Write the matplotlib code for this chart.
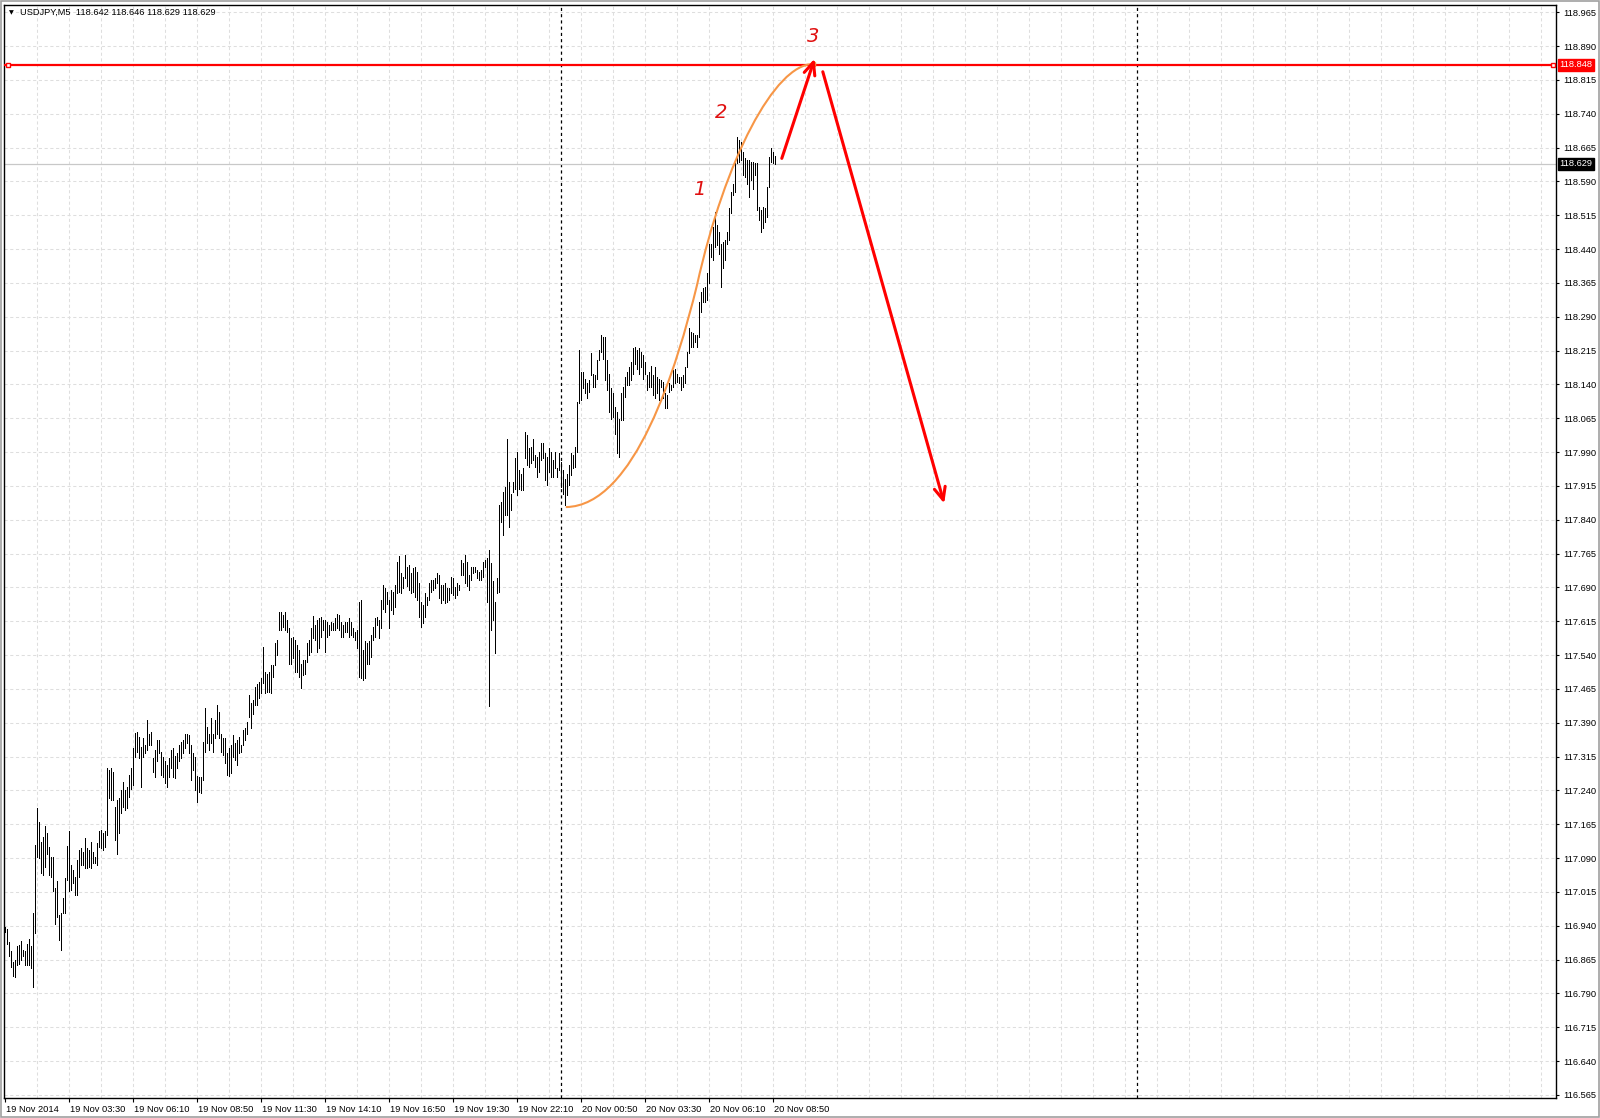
import numpy as np
import matplotlib.pyplot as plt
import matplotlib.transforms as mtrans
from matplotlib.path import Path
from matplotlib.patches import PathPatch, Rectangle

plt.rcParams['font.family'] = ['Liberation Sans', 'DejaVu Sans']

symbol = "USDJPY,M5"
last_ohlc = [118.642, 118.646, 118.629, 118.629]

# M5 bars from 19 Nov 2014 00:50, highs / lows in points above 116.000
high_pts = [
    936, 933, 903, 883, 860, 864, 896, 898, 905, 885, 883, 899, 911, 894, 968, 1119,
    1200, 1169, 1126, 1136, 1161, 1145, 1115, 1093, 1093, 1023, 1040, 964, 968, 1001, 1045, 1117,
    1151, 1075, 1064, 1049, 1086, 1108, 1112, 1104, 1134, 1112, 1108, 1126, 1104, 1093, 1124, 1149,
    1152, 1145, 1149, 1290, 1285, 1290, 1280, 1204, 1219, 1222, 1241, 1259, 1241, 1248, 1275, 1289,
    1333, 1368, 1370, 1359, 1337, 1355, 1341, 1397, 1366, 1370, 1311, 1330, 1352, 1352, 1326, 1315,
    1304, 1296, 1311, 1330, 1333, 1316, 1322, 1341, 1348, 1352, 1366, 1366, 1363, 1341, 1322, 1315,
    1272, 1270, 1270, 1348, 1422, 1381, 1366, 1400, 1366, 1396, 1429, 1414, 1366, 1355, 1355, 1322,
    1333, 1341, 1363, 1344, 1352, 1359, 1341, 1374, 1378, 1392, 1451, 1433, 1440, 1470, 1475, 1480,
    1490, 1558, 1503, 1499, 1503, 1518, 1518, 1566, 1573, 1636, 1636, 1629, 1636, 1618, 1599, 1577,
    1581, 1573, 1562, 1551, 1521, 1529, 1529, 1566, 1573, 1599, 1626, 1606, 1618, 1621, 1625, 1618,
    1618, 1614, 1606, 1614, 1610, 1621, 1632, 1629, 1614, 1606, 1614, 1614, 1621, 1614, 1599, 1592,
    1595, 1658, 1662, 1551, 1570, 1566, 1570, 1584, 1603, 1621, 1625, 1618, 1662, 1695, 1688, 1680,
    1662, 1684, 1680, 1695, 1747, 1759, 1721, 1714, 1762, 1736, 1740, 1721, 1732, 1736, 1725, 1699,
    1658, 1651, 1677, 1669, 1699, 1706, 1706, 1710, 1721, 1717, 1695, 1695, 1699, 1688, 1688, 1714,
    1710, 1691, 1699, 1695, 1751, 1743, 1762, 1747, 1717, 1736, 1736, 1736, 1728, 1725, 1728, 1747,
    1751, 1754, 1773, 1743, 1703, 1658, 1710, 1872, 1880, 1902, 1913, 2019, 1924, 1898, 1924, 1976,
    1991, 1950, 1942, 1954, 2035, 2028, 1998, 2002, 2020, 1983, 1980, 1991, 2009, 2009, 1987, 1980,
    1998, 1991, 1972, 1991, 1954, 1987, 1968, 1950, 1931, 1942, 1961, 1987, 1983, 2002, 2101, 2216,
    2168, 2168, 2153, 2142, 2149, 2209, 2164, 2161, 2194, 2216, 2249, 2245, 2245, 2194, 2164, 2131,
    2120, 2090, 2079, 2064, 2120, 2135, 2157, 2168, 2179, 2190, 2220, 2223, 2216, 2220, 2212, 2205,
    2190, 2161, 2168, 2180, 2160, 2179, 2157, 2153, 2149, 2146, 2120, 2116, 2142, 2138, 2172, 2175,
    2164, 2157, 2157, 2161, 2179, 2212, 2264, 2257, 2253, 2249, 2249, 2323, 2345, 2353, 2356, 2386,
    2452, 2452, 2489, 2522, 2493, 2478, 2452, 2456, 2460, 2478, 2530, 2567, 2585, 2630, 2689, 2681,
    2678, 2656, 2641, 2637, 2637, 2633, 2633, 2630, 2630, 2534, 2526, 2534, 2530, 2578, 2645, 2663,
    2656, 2646,
]
low_pts = [
    927, 899, 872, 849, 829, 827, 853, 855, 864, 872, 853, 853, 853, 846, 804, 923,
    1093, 1089, 1056, 1052, 1069, 1100, 1052, 1049, 1016, 943, 960, 908, 886, 968, 968, 1041,
    1016, 1019, 1034, 1008, 1008, 1049, 1075, 1075, 1067, 1067, 1071, 1067, 1078, 1078, 1075, 1115,
    1112, 1108, 1115, 1141, 1222, 1219, 1219, 1130, 1100, 1145, 1189, 1204, 1196, 1200, 1226, 1242,
    1252, 1315, 1326, 1311, 1248, 1315, 1322, 1330, 1341, 1341, 1281, 1269, 1304, 1322, 1274, 1270,
    1256, 1247, 1270, 1289, 1269, 1267, 1289, 1304, 1311, 1322, 1333, 1344, 1322, 1263, 1285, 1241,
    1215, 1237, 1234, 1263, 1326, 1344, 1330, 1344, 1326, 1355, 1366, 1355, 1326, 1318, 1300, 1274,
    1272, 1278, 1315, 1307, 1296, 1322, 1326, 1341, 1352, 1366, 1403, 1378, 1410, 1429, 1429, 1444,
    1455, 1477, 1455, 1459, 1459, 1455, 1492, 1518, 1540, 1595, 1595, 1603, 1595, 1592, 1521, 1521,
    1533, 1503, 1503, 1492, 1466, 1496, 1499, 1525, 1540, 1547, 1577, 1573, 1547, 1555, 1581, 1595,
    1547, 1581, 1584, 1595, 1595, 1595, 1599, 1595, 1581, 1581, 1592, 1592, 1581, 1584, 1581, 1573,
    1555, 1492, 1488, 1485, 1488, 1521, 1521, 1536, 1573, 1581, 1606, 1577, 1599, 1643, 1636, 1654,
    1599, 1640, 1632, 1647, 1677, 1680, 1677, 1688, 1710, 1692, 1684, 1677, 1680, 1669, 1662, 1625,
    1603, 1610, 1625, 1651, 1662, 1680, 1684, 1688, 1699, 1666, 1655, 1662, 1655, 1658, 1662, 1677,
    1673, 1666, 1673, 1684, 1717, 1717, 1699, 1692, 1684, 1706, 1721, 1725, 1710, 1706, 1706, 1714,
    1736, 1658, 1426, 1595, 1618, 1544, 1677, 1680, 1835, 1806, 1850, 1850, 1824, 1861, 1902, 1909,
    1895, 1909, 1905, 1905, 1976, 1961, 1957, 1965, 1972, 1957, 1935, 1946, 1972, 1976, 1928, 1917,
    1946, 1935, 1935, 1954, 1935, 1950, 1913, 1898, 1872, 1895, 1917, 1939, 1954, 1957, 1991, 2098,
    2105, 2131, 2120, 2109, 2124, 2161, 2135, 2135, 2153, 2194, 2212, 2197, 2149, 2127, 2079, 2064,
    2068, 2031, 1987, 1980, 2061, 2061, 2112, 2138, 2138, 2149, 2164, 2186, 2175, 2164, 2179, 2153,
    2164, 2127, 2135, 2135, 2116, 2109, 2120, 2105, 2135, 2109, 2087, 2087, 2124, 2127, 2135, 2142,
    2146, 2142, 2127, 2135, 2142, 2179, 2209, 2223, 2223, 2234, 2223, 2246, 2301, 2323, 2323, 2327,
    2364, 2423, 2415, 2445, 2448, 2430, 2356, 2397, 2415, 2452, 2460, 2519, 2560, 2567, 2630, 2633,
    2637, 2604, 2600, 2585, 2556, 2593, 2574, 2604, 2526, 2504, 2478, 2486, 2500, 2511, 2578, 2633,
    2630, 2629,
]
base_price = 116.0

time_label_bars = [0, 32, 64, 96, 128, 160, 192, 224, 256, 288, 320, 352, 384]
time_labels = ["19 Nov 2014", "19 Nov 03:30", "19 Nov 06:10", "19 Nov 08:50", "19 Nov 11:30",
               "19 Nov 14:10", "19 Nov 16:50", "19 Nov 19:30", "19 Nov 22:10", "20 Nov 00:50",
               "20 Nov 03:30", "20 Nov 06:10", "20 Nov 08:50"]
price_ticks = np.round(np.arange(116.565, 118.966, 0.075), 3)
separator_bars = [278, 566]

level_price = 118.848
level_anchor_bars = [1.5, 773.8]
bid_price = 118.629

# hand-drawn annotations (bar index, price)
curve_pts = [(280.4, 117.868), (315, 117.87), (336, 118.18), (346, 118.36),
             (360, 118.64), (385, 118.85), (403.9, 118.85)]
arrow_up = [(388.4, 118.641), (404.8, 118.862)]
arrow_down = [(408.9, 118.833), (469.6, 117.876)]
wave_marks = [("1", 347.1, 118.573), ("2", 358.3, 118.743), ("3", 404.2, 118.912)]

W, H = 1600, 1118
fig = plt.figure(figsize=(W / 100, H / 100), dpi=100)
fig.patch.set_facecolor("white")
ax = fig.add_axes([4 / W, (H - 1098) / H, 1552 / W, 1093 / H])
ax.set_xlim(-0.5, 775.5)
ax.set_ylim(116.558, 118.981)

# grid
for b in range(16, 776, 16):
    ax.axvline(b, color="#dedede", lw=0.75, ls=(0, (3, 2.5)), zorder=0)
for p in price_ticks:
    ax.axhline(p, color="#dedede", lw=0.75, ls=(0, (3, 2.5)), zorder=0)

for b in separator_bars:
    ax.axvline(b, color="black", lw=0.9, ls=(0, (2.5, 2.5)), zorder=1)

ax.axhline(bid_price, color="#c8c8c8", lw=0.9, zorder=1)

bars = np.arange(len(high_pts))
highs = base_price + np.array(high_pts) / 1000
lows = base_price + np.array(low_pts) / 1000
ax.vlines(bars, lows, highs, color="black", lw=0.55, antialiased=False, zorder=2)

# resistance level
ax.axhline(level_price, color="red", lw=1.6, zorder=3)
ax.plot(level_anchor_bars, [level_price] * 2, ls="none", marker="s", ms=3.5,
        mfc="white", mec="red", mew=1, zorder=4)

# orange arc
codes = [Path.MOVETO] + [Path.CURVE4] * 6
ax.add_patch(PathPatch(Path(curve_pts, codes), fill=False, ec="#f79646", lw=1.5, zorder=4))
ax.plot([curve_pts[-1][0]], [curve_pts[-1][1]], ls="none", marker="s", ms=3,
        mfc="white", mec="#f79646", mew=1, zorder=5)

for (start, tip) in (arrow_up, arrow_down):
    ax.annotate("", xy=tip, xytext=start,
                arrowprops=dict(arrowstyle="->,head_length=0.9,head_width=0.4",
                                color="red", lw=2.2, shrinkA=0, shrinkB=0), zorder=5)

for txt, b, p in wave_marks:
    ax.text(b, p, txt, color="#e01010", fontsize=14, style="italic",
            ha="center", va="center", family=["DejaVu Sans"], zorder=6)

# axes styling
for s in ax.spines.values():
    s.set_color("black")
    s.set_linewidth(1.0)
ax.yaxis.tick_right()
ax.set_yticks(price_ticks)
ax.set_yticklabels([f"{p:.3f}" for p in price_ticks])
ax.tick_params(axis="y", length=2, pad=3, labelsize=6.7, colors="black")
ax.set_xticks(time_label_bars)
ax.set_xticklabels(time_labels)
ax.tick_params(axis="x", length=3, pad=1.8, labelsize=6.7, colors="black")
offset = mtrans.ScaledTranslation(1.5 / 100, 0, fig.dpi_scale_trans)
for lbl in ax.get_xticklabels():
    lbl.set_ha("left")
    lbl.set_transform(lbl.get_transform() + offset)

# price tags on the scale
yx = mtrans.blended_transform_factory(ax.transAxes, ax.transData)
ax.text(1.0024, level_price, f"{level_price:.3f}", transform=yx, color="white", fontsize=6.7,
        ha="left", va="center", zorder=10, clip_on=False,
        bbox=dict(boxstyle="square,pad=0.18", fc="red", ec="red"))
ax.text(1.0024, bid_price, f"{bid_price:.3f}", transform=yx, color="white", fontsize=6.7,
        ha="left", va="center", zorder=10, clip_on=False,
        bbox=dict(boxstyle="square,pad=0.18", fc="black", ec="black"))

# header
fig.text(11.7 / W, 1 - 12.5 / H, "\u25bc", fontsize=4.5, ha="center", va="center",
         family=["DejaVu Sans"])
fig.text(20.5 / W, 1 - 12.5 / H,
         f"{symbol}  " + " ".join(f"{v:.3f}" for v in last_ohlc),
         fontsize=6.7, ha="left", va="center", color="black")

# window frame
fig.add_artist(Rectangle((0.6 / W, 0.6 / H), 1 - 1.2 / W, 1 - 1.2 / H, transform=fig.transFigure,
                         fill=False, ec="#a0a0a0", lw=1.2))

fig.savefig("out.png", dpi=100)
